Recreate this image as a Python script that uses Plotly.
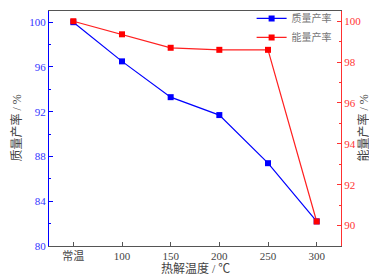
import plotly.graph_objects as go

categories = ['常温', '100', '150', '200', '250', '300']
mass_yield = [100.0, 96.5, 93.3, 91.7, 87.4, 82.2]
energy_yield = [100.0, 99.36, 98.7, 98.6, 98.6, 90.2]

FONT = "Liberation Serif, Noto Sans CJK SC, serif"
TXT = "#444444"

fig = go.Figure()
fig.add_trace(go.Scatter(
    x=categories, y=mass_yield, name='质量产率', mode='lines+markers',
    line=dict(color='#0000ff', width=1.2),
    marker=dict(symbol='square', size=6, color='#0000ff'),
    yaxis='y'))
fig.add_trace(go.Scatter(
    x=categories, y=energy_yield, name='能量产率', mode='lines+markers',
    line=dict(color='#ff2020', width=1.2),
    marker=dict(symbol='square', size=6, color='#ff0000'),
    yaxis='y2'))

fig.update_layout(
    width=377, height=276,
    margin=dict(l=41, r=44, t=3, b=38, autoexpand=False),
    paper_bgcolor='white', plot_bgcolor='white',
    font=dict(family=FONT, size=11, color=TXT),
    showlegend=True,
    legend=dict(x=0.985, y=1.03, xanchor='right', yanchor='top',
                bgcolor='rgba(0,0,0,0)', font=dict(size=10, color='#777777'),
                itemwidth=30, tracegroupgap=0),
    xaxis=dict(
        type='category', range=[-0.5, 5.5],
        showline=True, linecolor='#555555', linewidth=1.2, mirror=True,
        ticks='inside', ticklen=4, tickcolor='#555555',
        showgrid=False, zeroline=False,
        tickfont=dict(size=11, color=TXT),
    ),
    yaxis=dict(
        range=[80, 101], dtick=4, tick0=80,
        showline=True, linecolor='#0000ff', linewidth=1.2,
        ticks='inside', ticklen=4, tickcolor='#0000ff',
        minor=dict(dtick=2, ticks='inside', ticklen=2, tickcolor='#0000ff'),
        showgrid=False, zeroline=False,
        tickfont=dict(size=11, color='#3333ff'),
    ),
    yaxis2=dict(
        range=[89, 100.5], dtick=2, tick0=90,
        overlaying='y', side='right',
        showline=True, linecolor='#ff3030', linewidth=1.2,
        ticks='inside', ticklen=4, tickcolor='#ff3030',
        minor=dict(dtick=1, ticks='inside', ticklen=2, tickcolor='#ff3030'),
        showgrid=False, zeroline=False,
        tickfont=dict(size=11, color='#ff3333'),
    ),
    annotations=[
        dict(text='质量产率 / %', xref='paper', yref='paper', x=0, y=0.5,
             xanchor='center', yanchor='middle',
             xshift=-33, textangle=-90, showarrow=False,
             font=dict(size=12, color=TXT)),
        dict(text='能量产率 / %', xref='paper', yref='paper', x=1, y=0.5,
             xanchor='center', yanchor='middle',
             xshift=22, textangle=-90, showarrow=False,
             font=dict(size=12, color=TXT)),
        dict(text='热解温度 / ℃', xref='paper', yref='paper', x=0.5, y=0,
             xanchor='center', yanchor='middle',
             yshift=-22, showarrow=False,
             font=dict(size=12, color=TXT)),
    ],
)

fig.write_html("out.html")
